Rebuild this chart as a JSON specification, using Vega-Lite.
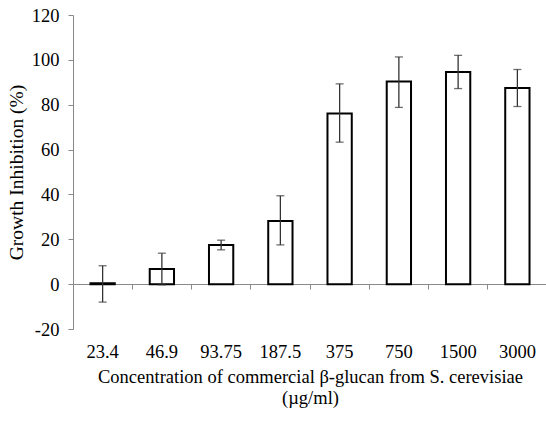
{
  "$schema": "https://vega.github.io/schema/vega-lite/v6.json",
  "autosize": {"type": "none"},
  "padding": {"left": 73, "top": 15, "right": 0, "bottom": 98},
  "width": 474,
  "height": 314,
  "background": "white",
  "config": {"view": {"stroke": null}, "font": "Liberation Serif"},
  "data": {"values": [
    {"conc": "23.4", "value": 0.4, "lo": -8.0, "hi": 8.2},
    {"conc": "46.9", "value": 6.8, "lo": -0.3, "hi": 13.8},
    {"conc": "93.75", "value": 17.5, "lo": 15.3, "hi": 19.6},
    {"conc": "187.5", "value": 28.2, "lo": 17.5, "hi": 39.4},
    {"conc": "375", "value": 76.1, "lo": 63.3, "hi": 89.3},
    {"conc": "750", "value": 90.3, "lo": 78.8, "hi": 101.3},
    {"conc": "1500", "value": 94.6, "lo": 87.2, "hi": 102.0},
    {"conc": "3000", "value": 87.5, "lo": 79.2, "hi": 95.7}
  ]},
  "encoding": {
    "x": {
      "field": "conc", "type": "ordinal", "sort": null,
      "scale": {"paddingInner": 0, "paddingOuter": 0},
      "axis": {
        "offset": -45,
        "bandPosition": 0,
        "domainColor": "#898989",
        "tickColor": "#898989",
        "tickSize": 5,
        "labelAngle": 0,
        "labelFontSize": 18.5,
        "labelColor": "black",
        "labelPadding": 53,
        "title": ["Concentration of commercial β-glucan from S. cerevisiae", "(µg/ml)"],
        "titleFontSize": 18.5,
        "titleFontWeight": "normal",
        "titleColor": "black",
        "titlePadding": 7,
        "titleLineHeight": 21
      }
    }
  },
  "layer": [
    {
      "mark": {"type": "bar", "width": {"band": 0.41}, "fill": "white", "stroke": "black", "strokeWidth": 2},
      "encoding": {
        "y": {
          "field": "value", "type": "quantitative",
          "title": "Growth Inhibition (%)",
          "scale": {"domain": [-20, 120], "nice": false, "zero": false},
          "axis": {
            "values": [-20, 0, 20, 40, 60, 80, 100, 120],
            "labelExpr": "replace(datum.label, '−', '-')",
            "grid": false,
            "domainColor": "#898989",
            "tickColor": "#898989",
            "tickSize": 5,
            "labelFontSize": 18.5,
            "labelColor": "black",
            "labelPadding": 9,
            "titleFontSize": 19.5,
            "titleFontWeight": "normal",
            "titleColor": "black",
            "titlePadding": 5
          }
        }
      }
    },
    {
      "mark": {"type": "rule", "color": "#333333", "strokeWidth": 1.3},
      "encoding": {
        "y": {"field": "lo", "type": "quantitative", "title": "Growth Inhibition (%)"},
        "y2": {"field": "hi"}
      }
    },
    {
      "mark": {"type": "tick", "color": "#333333", "size": 8, "thickness": 1.3},
      "encoding": {
        "y": {"field": "lo", "type": "quantitative", "title": "Growth Inhibition (%)"}
      }
    },
    {
      "mark": {"type": "tick", "color": "#333333", "size": 8, "thickness": 1.3},
      "encoding": {
        "y": {"field": "hi", "type": "quantitative", "title": "Growth Inhibition (%)"}
      }
    }
  ]
}
